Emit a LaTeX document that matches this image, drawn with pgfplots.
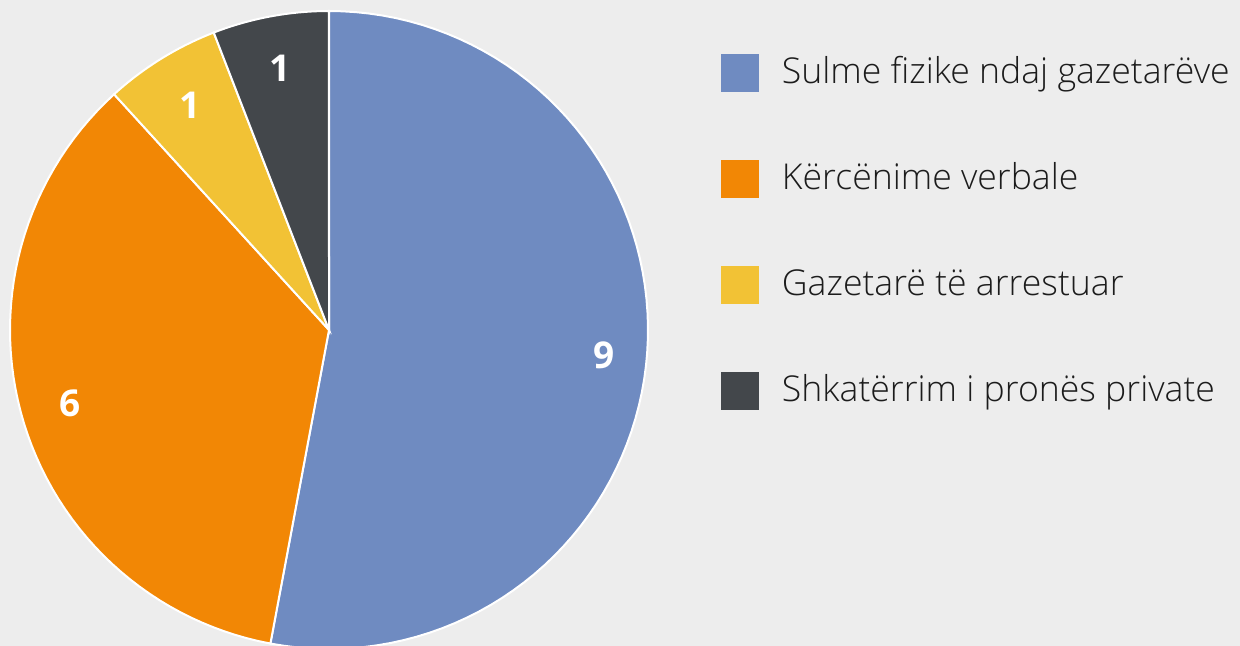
\documentclass[border=0pt]{standalone}
\usepackage{fontspec}
\setmainfont{Open Sans}[UprightFont=* Light, BoldFont=* Bold]
\usepackage{pgfplots}
\usepackage{pgfplotstable}
\pgfplotsset{compat=1.18}
\definecolor{bgc}{HTML}{EDEDED}
\definecolor{cblue}{HTML}{6F8BC1}
\definecolor{corange}{HTML}{F28705}
\definecolor{cyellow}{HTML}{F2C235}
\definecolor{cdark}{HTML}{43474B}
\definecolor{ctext}{HTML}{1C1C1C}
\pgfplotstableread{
value
9
6
1
1
}\piedata
\pgfplotstablegetelem{0}{value}\of\piedata \let\va\pgfplotsretval
\pgfplotstablegetelem{1}{value}\of\piedata \let\vb\pgfplotsretval
\pgfplotstablegetelem{2}{value}\of\piedata \let\vc\pgfplotsretval
\pgfplotstablegetelem{3}{value}\of\piedata \let\vd\pgfplotsretval
\pgfmathsetmacro\tot{\va+\vb+\vc+\vd}
\pgfmathsetmacro\aA{90}
\pgfmathsetmacro\aB{\aA-\va/\tot*360}
\pgfmathsetmacro\aC{\aB-\vb/\tot*360}
\pgfmathsetmacro\aD{\aC-\vc/\tot*360}
\pgfmathsetmacro\aE{\aD-\vd/\tot*360}
\begin{document}
\begin{tikzpicture}
\useasboundingbox (0,0) rectangle (620pt,323pt);
\clip (0,0) rectangle (620pt,323pt);
\fill[bgc] (0,0) rectangle (620pt,323pt);
\begin{axis}[
  at={(164.5pt,158pt)}, anchor=center,
  scale only axis, width=319pt, height=319pt,
  xmin=-1, xmax=1, ymin=-1, ymax=1,
  hide axis, clip=false,
  legend style={at={(axis cs:1.2288,0.865)}, anchor=north west,
    draw=none, fill=none, inner sep=0pt, outer sep=0pt,
    row sep=34pt, column sep=11.5pt,
    font=\fontsize{17.8}{20}\selectfont, text=ctext,
    nodes={inner sep=0pt, outer sep=0pt, anchor=west, text height=14pt, text depth=4pt}},
  legend cell align=left,
  legend image code/.code={\fill[#1, draw=none] (0pt,-9.5pt) rectangle (19pt,9.5pt);},
]
\addplot[fill=cblue, draw=white, line width=1pt, domain=\aB:\aA, samples=80]
  ({cos(x)},{sin(x)}) -- (axis cs:0,0) -- cycle;
\addlegendentry{Sulme fizike ndaj gazetarëve}
\addplot[fill=corange, draw=white, line width=1pt, domain=\aC:\aB, samples=60]
  ({cos(x)},{sin(x)}) -- (axis cs:0,0) -- cycle;
\addlegendentry{Kërcënime verbale}
\addplot[fill=cyellow, draw=white, line width=1pt, domain=\aD:\aC, samples=20]
  ({cos(x)},{sin(x)}) -- (axis cs:0,0) -- cycle;
\addlegendentry{Gazetarë të arrestuar}
\addplot[fill=cdark, draw=white, line width=1pt, domain=\aE:\aD, samples=20]
  ({cos(x)},{sin(x)}) -- (axis cs:0,0) -- cycle;
\addlegendentry{Shkatërrim i pronës private}
\pgfmathsetmacro\mA{(\aA+\aB)/2}
\pgfmathsetmacro\mB{(\aB+\aC)/2}
\pgfmathsetmacro\mC{(\aC+\aD)/2}
\pgfmathsetmacro\mD{(\aD+\aE)/2}
\node[text=white, font=\bfseries\fontsize{18.5}{20}\selectfont] at (axis cs:{0.865*cos(\mA)},{0.865*sin(\mA)}) {\va};
\node[text=white, font=\bfseries\fontsize{18.5}{20}\selectfont] at (axis cs:{0.845*cos(\mB)},{0.845*sin(\mB)}) {\vb};
\node[text=white, font=\bfseries\fontsize{18.5}{20}\selectfont] at (axis cs:{0.83*cos(\mC)},{0.83*sin(\mC)}) {\vc};
\node[text=white, font=\bfseries\fontsize{18.5}{20}\selectfont] at (axis cs:{0.835*cos(\mD)},{0.835*sin(\mD)}) {\vd};
\end{axis}
\end{tikzpicture}
\end{document}
